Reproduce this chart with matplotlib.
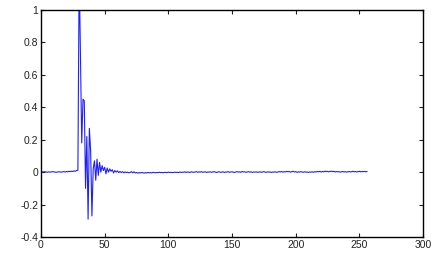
import matplotlib
matplotlib.use("Agg")
import numpy as np
from matplotlib import pyplot as plt

matplotlib.rcParams["font.family"] = "Liberation Sans"

# samples 1..28: quiet baseline before the pulse
pre = [0.002, 0.001, 0.003, 0.001, -0.001, 0.002, 0.000, 0.001, 0.003, 0.002,
       0.000, -0.001, 0.001, 0.002, 0.001, 0.000, 0.002, 0.003, 0.001, 0.004,
       0.002, 0.005, 0.003, 0.006, 0.004, 0.008, 0.005, 0.010]

# samples 29..70: the pulse and its ringing
burst = [0.012, 1.25, 0.72, 0.18, 0.45, 0.44, -0.10, 0.22, -0.29, 0.27,
         0.13, -0.27, 0.02, 0.07, -0.05, 0.08, -0.02, 0.06, 0.00, 0.04,
         0.01, 0.03, -0.01, 0.025, 0.00, 0.02, 0.005, 0.015, -0.005, 0.01,
         0.00, 0.008, -0.003, 0.004, -0.002, 0.003, -0.004, 0.001, -0.003, 0.000,
         -0.004, -0.002]

# samples 71..256: small residual noise
tail = [0.003, -0.004, 0.002, -0.005, -0.002, -0.006, -0.003, -0.005, -0.002, -0.004,
        -0.006, -0.003, -0.005, -0.002, -0.004, -0.003, -0.005, -0.001, -0.003, -0.004,
        -0.002, -0.003, -0.001, -0.003, -0.002, -0.004, -0.001, -0.002, -0.003, 0.000,
        -0.002, -0.001, -0.003, -0.002, 0.000, -0.002, -0.001, -0.003, 0.001, -0.002,
        0.000, -0.001, 0.002, -0.002, 0.001, 0.000, -0.002, 0.002, 0.000, -0.001,
        0.001, 0.003, -0.001, 0.002, 0.000, 0.003, -0.001, 0.001, 0.002, -0.002,
        0.001, 0.000, 0.002, -0.001, 0.001, 0.003, 0.000, -0.002, 0.001, 0.002,
        -0.001, 0.000, 0.002, -0.002, 0.001, 0.000, 0.003, -0.001, 0.001, 0.002,
        0.000, -0.002, 0.001, 0.003, 0.000, 0.002, -0.001, 0.004, 0.001, 0.002,
        -0.001, 0.001, 0.003, 0.000, 0.002, -0.002, 0.001, 0.000, 0.002, -0.001,
        0.000, 0.002, -0.001, 0.001, 0.003, 0.000, -0.001, 0.002, 0.000, 0.001,
        -0.002, 0.001, 0.000, 0.002, -0.001, 0.001, 0.003, 0.001, 0.004, 0.000,
        0.003, 0.001, 0.005, 0.002, 0.004, 0.000, 0.003, 0.005, 0.001, 0.003,
        -0.001, 0.002, 0.000, 0.003, 0.001, -0.001, 0.002, 0.000, 0.001, -0.002,
        0.001, 0.000, 0.002, -0.001, 0.003, 0.001, 0.004, 0.002, 0.005, 0.001,
        0.004, 0.002, 0.006, 0.003, 0.005, 0.002, 0.004, 0.006, 0.003, 0.005,
        0.001, 0.004, 0.002, 0.003, 0.000, 0.002, 0.004, 0.001, 0.003, 0.000,
        0.002, 0.004, 0.001, 0.003, 0.005, 0.002, 0.004, 0.001, 0.003, 0.005,
        0.002, 0.004, 0.003, 0.005, 0.002, 0.004]

y = np.array(pre + burst + tail)
x = np.arange(1, len(y) + 1)

xticks = [0, 50, 100, 150, 200, 250, 300]
yticks = [-0.4, -0.2, 0, 0.2, 0.4, 0.6, 0.8, 1]
ylabels = ["-0.4", "-0.2", "0", "0.2", "0.4", "0.6", "0.8", "1"]

fig = plt.figure(figsize=(4.44, 2.6), dpi=100)
ax = fig.add_axes([0.0923, 0.0885, 0.8604, 0.873])
ax.plot(x, y, color="#2020ff", linewidth=0.8)

ax.set_xlim(0, 300)
ax.set_ylim(-0.4, 1)
ax.set_xticks(xticks)
ax.set_xticklabels([str(t) for t in xticks])
ax.set_yticks(yticks)
ax.set_yticklabels(ylabels)
ax.tick_params(direction="in", length=3, width=0.8, labelsize=7.5,
               top=True, right=True, pad=2, colors="#222222")
for s in ax.spines.values():
    s.set_linewidth(1.0)

plt.savefig("out.png", dpi=100)
